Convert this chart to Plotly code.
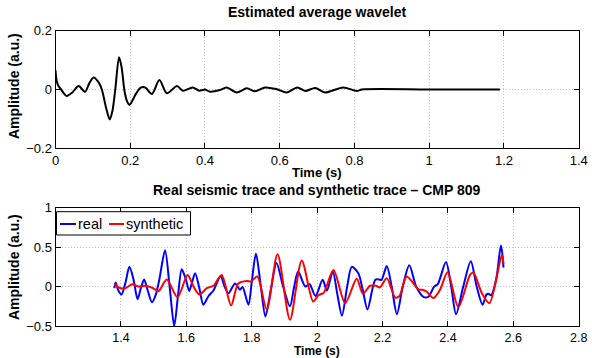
import plotly.graph_objects as go

# ---- Estimated average wavelet ----
wav_t = [0.000, 0.003, 0.008, 0.015, 0.030, 0.045, 0.062, 0.079, 0.090, 0.102, 0.115, 0.124,
         0.135, 0.145, 0.152, 0.160, 0.170, 0.177, 0.184, 0.190, 0.198, 0.207, 0.215, 0.228,
         0.240, 0.258, 0.278, 0.298, 0.325, 0.341, 0.367, 0.385, 0.400, 0.412, 0.440, 0.458,
         0.485, 0.512, 0.534, 0.561, 0.592, 0.619, 0.647, 0.668, 0.695, 0.721, 0.770, 0.806,
         0.820, 1.000, 1.189]
wav_a = [0.065, 0.030, 0.012, 0.000, -0.022, -0.010, 0.012, -0.008, 0.020, 0.041, 0.025, 0.000,
         -0.060, -0.102, -0.075, 0.000, 0.110, 0.075, 0.000, -0.035, -0.052, -0.035, -0.015, 0.006,
         0.007, -0.015, 0.032, -0.013, 0.012, -0.004, 0.007, -0.004, 0.000, -0.007, -0.002, 0.007,
         -0.010, 0.004, -0.006, 0.007, 0.001, -0.010, 0.007, -0.005, 0.005, -0.010, 0.007, -0.005,
         0.000, 0.000, 0.000]

# ---- Real seismic trace ----
real_t = [1.380, 1.384, 1.392, 1.402, 1.414, 1.426, 1.438, 1.451, 1.461, 1.471, 1.482, 1.495,
          1.507, 1.518, 1.535, 1.549, 1.563, 1.575, 1.586, 1.598, 1.609, 1.618, 1.627, 1.640,
          1.652, 1.668, 1.683, 1.705, 1.717, 1.729, 1.749, 1.764, 1.772, 1.790, 1.800, 1.813,
          1.828, 1.842, 1.858, 1.876, 1.896, 1.917, 1.930, 1.942, 1.964, 1.977, 1.995, 2.017,
          2.030, 2.048, 2.062, 2.076, 2.092, 2.106, 2.126, 2.140, 2.154, 2.178, 2.190, 2.197,
          2.213, 2.228, 2.244, 2.262, 2.282, 2.303, 2.325, 2.340, 2.358, 2.369, 2.394, 2.410,
          2.425, 2.447, 2.470, 2.488, 2.506, 2.518, 2.524, 2.532, 2.548, 2.562, 2.567, 2.570]
real_a = [-0.02, 0.05, -0.05, -0.10, 0.05, 0.25, 0.10, -0.16, -0.02, 0.09, -0.05, -0.20,
          -0.10, 0.10, 0.46, 0.00, -0.50, -0.10, 0.22, 0.10, -0.055, 0.06, 0.17, -0.02,
          -0.23, -0.12, -0.05, 0.13, 0.00, -0.085, 0.04, -0.04, -0.005, -0.23, 0.05, 0.42,
          0.00, -0.38, -0.05, 0.30, 0.00, -0.25, 0.00, 0.19, 0.00, 0.03, -0.12, 0.085,
          -0.05, 0.19, -0.10, -0.37, 0.00, 0.25, 0.17, -0.05, -0.29, 0.085, 0.09, 0.085,
          0.26, 0.00, -0.35, 0.00, 0.27, 0.00, -0.13, -0.13, 0.00, 0.03, 0.31, 0.00,
          -0.35, 0.00, 0.32, 0.00, -0.23, -0.10, -0.09, -0.11, 0.10, 0.52, 0.40, 0.24]

# ---- Synthetic trace ----
syn_t = [1.380, 1.392, 1.400, 1.415, 1.434, 1.454, 1.475, 1.498, 1.515, 1.540, 1.573, 1.604,
         1.622, 1.640, 1.663, 1.683, 1.708, 1.737, 1.759, 1.785, 1.798, 1.817, 1.846, 1.879,
         1.917, 1.953, 1.988, 2.004, 2.020, 2.050, 2.086, 2.121, 2.140, 2.162, 2.180, 2.192,
         2.213, 2.239, 2.252, 2.274, 2.310, 2.322, 2.335, 2.356, 2.376, 2.399, 2.432, 2.468,
         2.478, 2.504, 2.527, 2.565, 2.570]
syn_a = [0.04, -0.01, -0.02, -0.02, 0.03, 0.00, 0.01, -0.02, -0.06, 0.09, -0.135, 0.148,
         0.00, -0.10, -0.02, 0.01, 0.148, -0.24, 0.04, 0.072, 0.065, 0.127, -0.29, 0.41,
         -0.42, 0.33, -0.19, -0.11, -0.08, 0.21, -0.21, 0.10, -0.09, 0.01, 0.01, -0.01,
         0.106, -0.14, -0.12, 0.127, -0.035, -0.04, -0.065, -0.145, -0.04, 0.18, -0.26, 0.15,
         0.178, -0.085, -0.21, 0.40, 0.29]

top_xticks = [0, 0.2, 0.4, 0.6, 0.8, 1, 1.2, 1.4]
top_yticks = [-0.2, 0, 0.2]
bot_xticks = [1.4, 1.6, 1.8, 2, 2.2, 2.4, 2.6, 2.8]
bot_yticks = [-0.5, 0, 0.5, 1]

W, H = 592, 358
FONT = "Liberation Sans, Arial, Helvetica, sans-serif"
BLUE = "#0000ff"
RED = "#ff0000"

fig = go.Figure()
fig.add_trace(go.Scatter(x=wav_t, y=wav_a, mode="lines", name="wavelet",
                         line=dict(color="black", width=2, shape="spline", smoothing=0.8),
                         xaxis="x", yaxis="y", showlegend=False))
fig.add_trace(go.Scatter(x=real_t, y=real_a, mode="lines", name="real",
                         line=dict(color=BLUE, width=2, shape="spline", smoothing=0.8),
                         xaxis="x2", yaxis="y2", showlegend=False))
fig.add_trace(go.Scatter(x=syn_t, y=syn_a, mode="lines", name="synthetic",
                         line=dict(color=RED, width=2, shape="spline", smoothing=0.8),
                         xaxis="x2", yaxis="y2", showlegend=False))

def px_x(p):
    return p / W

def px_y(p):
    return 1 - p / H

axis_common = dict(showline=True, linecolor="black", linewidth=1, mirror="ticks",
                   ticks="inside", ticklen=5, tickcolor="black", tickwidth=1,
                   showgrid=True, gridcolor="#c4c4c4", griddash="1px,2px", gridwidth=1,
                   zeroline=False, automargin=False)
tf13 = dict(family=FONT, size=13, color="black")
tf12 = dict(family=FONT, size=12.5, color="black")

xdom = [px_x(55.5), px_x(578.7)]
fig.update_layout(
    template="none",
    width=W, height=H, margin=dict(l=0, r=0, t=0, b=0, pad=0),
    paper_bgcolor="white", plot_bgcolor="white",
    font=dict(family=FONT, size=13, color="black"),
    xaxis=dict(domain=xdom, range=[0, 1.4], tickvals=top_xticks,
               ticktext=["0", "0.2", "0.4", "0.6", "0.8", "1", "1.2", "1.4"],
               anchor="y", ticklabelstandoff=0, tickfont=tf13, **axis_common),
    yaxis=dict(domain=[px_y(148.3), px_y(30.7)], range=[-0.2, 0.2], tickvals=top_yticks,
               ticktext=["\u22120.2", "0", "0.2"], anchor="x", tickfont=tf13, **axis_common),
    xaxis2=dict(domain=xdom, range=[1.2, 2.8], tickvals=bot_xticks,
                ticktext=["1.4", "1.6", "1.8", "2", "2.2", "2.4", "2.6", "2.8"],
                anchor="y2", ticklabelstandoff=0, tickfont=tf12, **axis_common),
    yaxis2=dict(domain=[px_y(326), px_y(207.7)], range=[-0.5, 1], tickvals=bot_yticks,
                ticktext=["\u22120.5", "0", "0.5", "1"], anchor="x2", tickfont=tf13, **axis_common),
)

ann = []
def text(x, y, s, size, bold=True, angle=0, xanchor="center"):
    ann.append(dict(x=px_x(x), y=px_y(y), xref="paper", yref="paper", text=(f"<b>{s}</b>" if bold else s),
                    showarrow=False, textangle=angle, xanchor=xanchor, yanchor="middle",
                    borderpad=0, font=dict(family=FONT, size=size, color="black")))

text(317, 12, "Estimated average wavelet", 14)
text(317, 190.5, "Real seismic trace and synthetic trace \u2013 CMP 809", 14)
text(317, 172, "Time (s)", 13)
text(317, 351, "Time (s)", 12)
text(14, 86, "Amplitude (a.u.)", 14, angle=-90)
text(14, 267, "Amplitude (a.u.)", 14, angle=-90)
# legend text
text(77, 223.5, "real", 14.5, bold=False, xanchor="left")
text(125, 223.5, "synthetic", 14.5, bold=False, xanchor="left")
fig.update_layout(annotations=ann)

shapes = [
    dict(type="rect", xref="paper", yref="paper", x0=px_x(56.5), x1=px_x(190.5),
         y0=px_y(235), y1=px_y(211.7), line=dict(color="black", width=1), fillcolor="white", layer="above"),
    dict(type="line", xref="paper", yref="paper", x0=px_x(60), x1=px_x(76),
         y0=px_y(224), y1=px_y(224), line=dict(color=BLUE, width=2)),
    dict(type="line", xref="paper", yref="paper", x0=px_x(109), x1=px_x(124),
         y0=px_y(224), y1=px_y(224), line=dict(color=RED, width=2)),
]
fig.update_layout(shapes=shapes)

fig.write_html("out.html")
